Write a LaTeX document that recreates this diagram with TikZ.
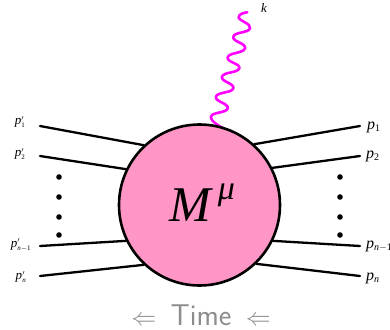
\documentclass[tikz,border=0pt]{standalone}
\usepackage{fontspec}
\setmainfont{Liberation Serif}
\usepackage{tikz}
\definecolor{blobpink}{RGB}{255,150,197}
\definecolor{wavy}{RGB}{255,0,255}
\definecolor{timegray}{RGB}{140,140,140}
\newcommand{\momout}[1]{\textit{p}$_{\mbox{\fontsize{10}{10}\selectfont #1}}$}
\newcommand{\momin}[1]{\textit{p}$^{\mbox{\fontsize{7}{7}\selectfont$\prime$}}_{\mbox{\fontsize{7}{7}\selectfont #1}}$}
\tikzset{
  leg/.style={line width=2.3pt,line cap=round},
  dotmark/.style={circle,fill=black,inner sep=0pt,minimum size=5.6pt},
  inlabel/.style={inner sep=0pt,font=\fontsize{13}{13}\selectfont},
  outlabel/.style={inner sep=0pt,font=\fontsize{16}{16}\selectfont},
  blob/.style={circle,draw=black,line width=2.6pt,fill=blobpink,minimum size=161pt,inner sep=0pt},
  photon/.style={wavy,line width=2.6pt,line cap=round}
}
\begin{document}
\begin{tikzpicture}[x=1pt,y=-1pt]
  \useasboundingbox (0,0) rectangle (390,329);
  % photon goes under the blob
  \coordinate (kend) at (247.3,12.3);
  \coordinate (kstart) at (223.3,128.3);
  \draw[photon] plot[smooth,tension=0.9] coordinates {(kend) (238.7,17.3) (250,28.3) (233.3,36.7)
    (245,48.3) (227.7,57.3) (239.3,68.3) (222,76.7) (233.3,88.3) (216,96.7) (227.7,108.3)
    (211,116.7) (kstart)};
  \node[blob] (M) at (199.5,205) {};
  \node[inner sep=0pt,font=\fontsize{50}{50}\selectfont] (Mlabel) at (191.5,205) {\textit{M}};
  \node[inner sep=0pt,font=\fontsize{34}{34}\selectfont] (mu) at (226.5,195) {\textit{μ}};
  \node[inner sep=0pt,font=\fontsize{13}{13}\selectfont] (k) at (264,8) {\textit{k}};
  % incoming legs
  \coordinate (a1) at (40,126);
  \coordinate (a2) at (40,156);
  \coordinate (a3) at (40,246);
  \coordinate (a4) at (40,276);
  \node[inlabel] (pa1) at (20,122) {\momin{1}};
  \node[inlabel] (pa2) at (20,154) {\momin{2}};
  \node[inlabel] (pa3) at (21,245) {\momin{\textit{n}$-$1}};
  \node[inlabel] (pa4) at (21,277) {\momin{\textit{n}}};
  \draw[leg] (a1) -- (M.133);
  \draw[leg] (a2) -- (M.154);
  \draw[leg] (a3) -- (M.206);
  \draw[leg] (a4) -- (M.227);
  % outgoing legs
  \coordinate (b1) at (360,126);
  \coordinate (b2) at (360,156);
  \coordinate (b3) at (360,246);
  \coordinate (b4) at (360,276);
  \node[outlabel,anchor=west] (pb1) at (367,127) {\momout{1}};
  \node[outlabel,anchor=west] (pb2) at (366,156) {\momout{2}};
  \node[outlabel,anchor=west] (pb3) at (366,246) {\momout{\textit{n}$-$1}};
  \node[outlabel,anchor=west] (pb4) at (366,278) {\momout{\textit{n}}};
  \draw[leg] (b1) -- (M.48);
  \draw[leg] (b2) -- (M.27);
  \draw[leg] (b3) -- (M.-26);
  \draw[leg] (b4) -- (M.-46);
  % dots
  \foreach \y/\i in {177/1,197/2,217/3,235/4} {
    \node[dotmark] (dl\i) at (59,\y) {};
    \node[dotmark] (dr\i) at (340,\y) {};
  }
  \node[timegray,inner sep=0pt,font=\fontsize{30}{30}\sffamily] (time) at (201,315) {$\Leftarrow$\, Time \,$\Leftarrow$};
\end{tikzpicture}
\end{document}
